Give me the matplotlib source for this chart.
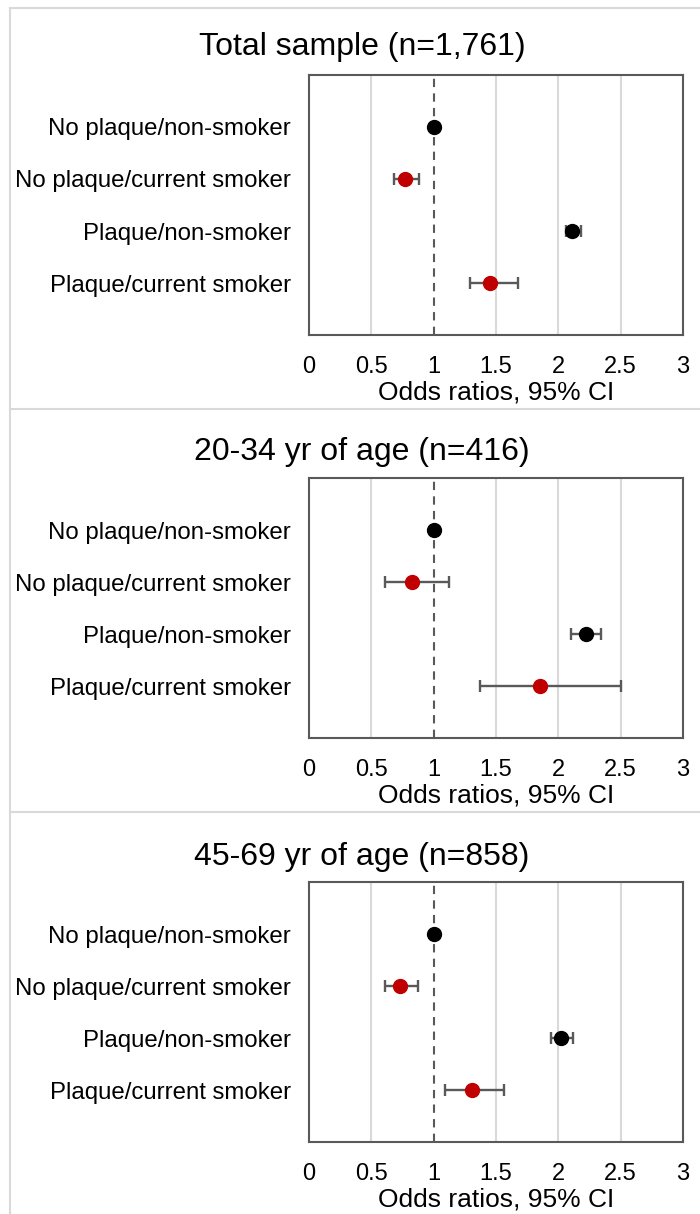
import numpy as np
import matplotlib.pyplot as plt
from matplotlib.lines import Line2D

plt.rcParams.update({"font.family": ["Liberation Sans", "DejaVu Sans"], "font.size": 12})

groups = ["No plaque/non-smoker", "No plaque/current smoker",
          "Plaque/non-smoker", "Plaque/current smoker"]
titles = ["Total sample (n=1,761)", "20-34 yr of age (n=416)", "45-69 yr of age (n=858)"]

# odds ratios with lower / upper 95% CI, one list per panel
or_total = [1.0, 0.77, 2.11, 1.455]
lo_total = [1.0, 0.68, 2.06, 1.29]
hi_total = [1.0, 0.88, 2.18, 1.68]

or_young = [1.0, 0.826, 2.22, 1.85]
lo_young = [1.0, 0.61, 2.10, 1.375]
hi_young = [1.0, 1.12, 2.34, 2.50]

or_old = [1.0, 0.727, 2.024, 1.305]
lo_old = [1.0, 0.607, 1.94, 1.088]
hi_old = [1.0, 0.877, 2.12, 1.567]

xticks = [0, 0.5, 1, 1.5, 2, 2.5, 3]
xticklabels = ["0", "0.5", "1", "1.5", "2", "2.5", "3"]
point_colors = ["black", "#C00000", "black", "#C00000"]

panels = [(or_total, lo_total, hi_total),
          (or_young, lo_young, hi_young),
          (or_old, lo_old, hi_old)]

W, H = 700, 1214
fig = plt.figure(figsize=(W / 100, H / 100), dpi=100)

box_tops = [75, 478, 882]
title_y = [47, 452, 857]
box_h = 260

for k, (vals, lo, hi) in enumerate(panels):
    top = box_tops[k]
    ax = fig.add_axes([309 / W, 1 - (top + box_h) / H, 374 / W, box_h / H])
    ypos = np.arange(1, len(groups) + 1)
    for g in [0.5, 1.5, 2, 2.5]:
        ax.axvline(g, color="#d9d9d9", lw=1.5, zorder=0)
    ax.axvline(1, color="#595959", lw=1.5, ls=(0, (4, 3)), zorder=1)
    for i in range(len(groups)):
        v = vals[i]
        err = [[v - lo[i]], [hi[i] - v]]
        if hi[i] > lo[i]:
            ax.errorbar(v, ypos[i], xerr=err, fmt="none", ecolor="#595959",
                        elinewidth=1.7, capsize=4.3, capthick=1.7, zorder=2)
        ax.plot(v, ypos[i], "o", color=point_colors[i], ms=10, zorder=3)
    ax.set_xlim(0, 3)
    ax.set_ylim(5, 0)
    ax.set_yticks(ypos)
    ax.set_yticklabels(groups, fontsize=17.3)
    ax.set_xticks(xticks)
    ax.set_xticklabels(xticklabels, fontsize=17)
    ax.tick_params(axis="x", length=0, pad=15)
    ax.tick_params(axis="y", length=0, pad=13)
    ax.set_xlabel("Odds ratios, 95% CI", fontsize=19, labelpad=2)
    for s in ax.spines.values():
        s.set_color("#595959")
        s.set_linewidth(1.5)
    fig.text(362 / W, 1 - title_y[k] / H, titles[k], fontsize=23,
             ha="center", va="center")

# light frame round the three panels
frame = "#d9d9d9"
fig.add_artist(Line2D([10 / W, 10 / W], [0, 1 - 8 / H], color=frame, lw=1.5))
fig.add_artist(Line2D([10 / W, 1], [1 - 8 / H, 1 - 8 / H], color=frame, lw=1.5))
for yy in [409, 812]:
    fig.add_artist(Line2D([10 / W, 1], [1 - yy / H, 1 - yy / H], color=frame, lw=1.5))

fig.savefig("out.png", dpi=100)
